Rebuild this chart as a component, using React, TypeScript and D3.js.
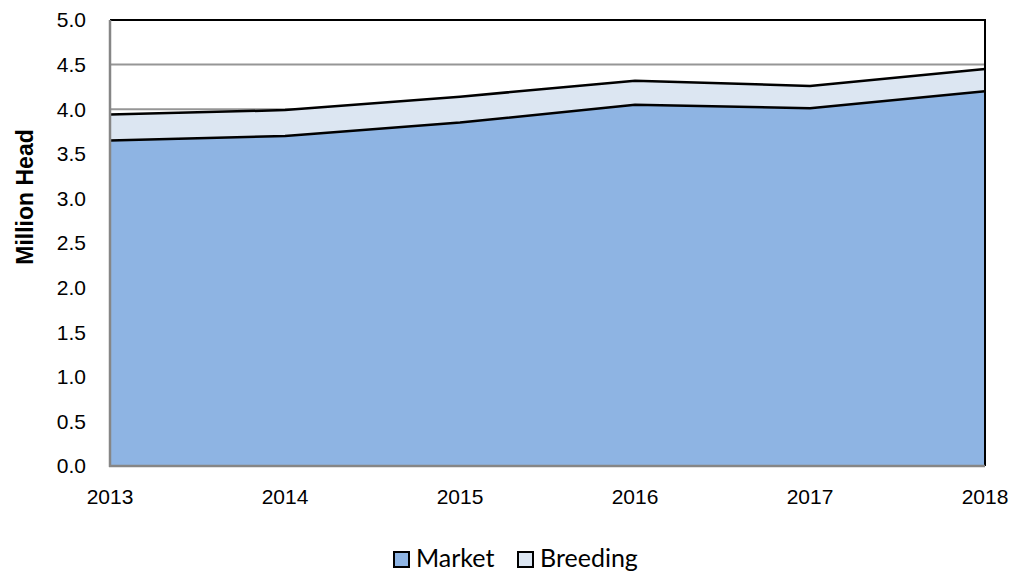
import React, { useRef, useEffect } from 'react';
import * as d3 from 'd3';

const years = ['2013', '2014', '2015', '2016', '2017', '2018'];
const market = [3.65, 3.7, 3.85, 4.05, 4.01, 4.2];
const breeding = [0.29, 0.29, 0.29, 0.27, 0.25, 0.25];
const yTicks = [0, 0.5, 1, 1.5, 2, 2.5, 3, 3.5, 4, 4.5, 5];

const W = 1014;
const H = 572;

const App = () => {
  const svgRef = useRef<SVGSVGElement>(null);

  useEffect(() => {
    const svg = d3.select(svgRef.current);
    svg.selectAll('*').remove();

    const left = 110;
    const right = 985;
    const top = 20;
    const bottom = 466;

    const x = d3.scalePoint<string>().domain(years).range([left, right]);
    const y = d3.scaleLinear().domain([0, 5]).range([bottom, top]);

    const rows = years.map((yr, i) => ({ yr, m: market[i], t: market[i] + breeding[i] }));

    // gridlines
    svg.append('g')
      .selectAll('line')
      .data(yTicks.filter((d) => d > 0))
      .join('line')
      .attr('x1', left)
      .attr('x2', right)
      .attr('y1', (d) => y(d))
      .attr('y2', (d) => y(d))
      .attr('stroke', '#969696')
      .attr('stroke-width', 2);

    const areaTotal = d3.area<any>()
      .x((d) => x(d.yr)!)
      .y0((d) => y(d.m))
      .y1((d) => y(d.t));
    const areaMarket = d3.area<any>()
      .x((d) => x(d.yr)!)
      .y0(y(0))
      .y1((d) => y(d.m));

    svg.append('path').attr('d', areaTotal(rows)).attr('fill', '#DCE6F2');
    svg.append('path').attr('d', areaMarket(rows)).attr('fill', '#8EB4E3');

    const line = (acc: (d: any) => number) =>
      d3.line<any>().x((d) => x(d.yr)!).y((d) => y(acc(d)));

    svg.append('path').attr('d', line((d) => d.t)(rows)).attr('fill', 'none').attr('stroke', '#000').attr('stroke-width', 2.5);
    svg.append('path').attr('d', line((d) => d.m)(rows)).attr('fill', 'none').attr('stroke', '#000').attr('stroke-width', 2.5);

    // plot border (top & right black)
    svg.append('path')
      .attr('d', `M${left},${top}H${right}V${bottom}`)
      .attr('fill', 'none')
      .attr('stroke', '#000')
      .attr('stroke-width', 2);

    // axes
    svg.append('line').attr('x1', left).attr('x2', left).attr('y1', top).attr('y2', bottom + 1)
      .attr('stroke', '#868686').attr('stroke-width', 2.5);
    svg.append('line').attr('x1', left - 1).attr('x2', right).attr('y1', bottom).attr('y2', bottom)
      .attr('stroke', '#868686').attr('stroke-width', 2.5);

    const tickFont = 'Liberation Sans, Arial, sans-serif';

    // y tick labels
    svg.append('g')
      .selectAll('text')
      .data(yTicks)
      .join('text')
      .attr('x', 86)
      .attr('y', (d) => y(d))
      .attr('dy', '0.35em')
      .attr('text-anchor', 'end')
      .attr('font-family', tickFont)
      .attr('font-size', 21)
      .attr('fill', '#000')
      .text((d) => d3.format('.1f')(d));

    // x tick labels
    svg.append('g')
      .selectAll('text')
      .data(years)
      .join('text')
      .attr('x', (d) => x(d)!)
      .attr('y', 497)
      .attr('dy', '0.35em')
      .attr('text-anchor', 'middle')
      .attr('font-family', tickFont)
      .attr('font-size', 21)
      .attr('fill', '#000')
      .text((d) => d);

    // y title
    svg.append('text')
      .attr('transform', `translate(25,197) rotate(-90)`)
      .attr('dy', '0.35em')
      .attr('text-anchor', 'middle')
      .attr('font-family', tickFont)
      .attr('font-weight', 'bold')
      .attr('font-size', 23)
      .text('Million Head');

    // legend
    const legend = [
      { name: 'Market', color: '#8EB4E3', x: 393 },
      { name: 'Breeding', color: '#DCE6F2', x: 517 },
    ];
    const lg = svg.append('g');
    legend.forEach((l) => {
      lg.append('rect')
        .attr('x', l.x + 1)
        .attr('y', 552)
        .attr('width', 15)
        .attr('height', 15)
        .attr('fill', l.color)
        .attr('stroke', '#000')
        .attr('stroke-width', 2);
      lg.append('text')
        .attr('x', l.x + 23)
        .attr('y', 567)
        .attr('font-family', 'Lato, Open Sans, sans-serif')
        .attr('font-size', 25)
        .attr('fill', '#000')
        .text(l.name);
    });
  }, []);

  return (
    <svg
      ref={svgRef}
      width={W}
      height={H}
      style={{ position: 'absolute', left: 0, top: 0, background: '#fff' }}
    />
  );
};

export default App;
